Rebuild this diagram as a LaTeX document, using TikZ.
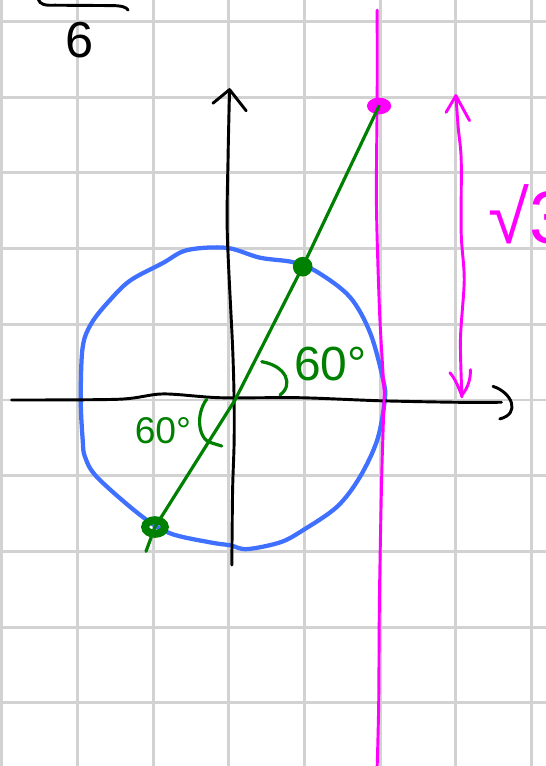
\documentclass[tikz,border=0pt]{standalone}
\usepackage{fontspec}
\setmainfont{Liberation Sans}
\usepackage{tikz}
\usetikzlibrary{calc}
\definecolor{gridgrey}{RGB}{210, 210, 210}
\definecolor{penblue}{RGB}{64, 112, 255}
\definecolor{pengreen}{RGB}{0, 128, 0}
\definecolor{penpink}{RGB}{255, 0, 255}
\begin{document}
\begin{tikzpicture}[
    gridline/.style={draw=gridgrey, line width=1.1pt},
    axis/.style={draw=black, line width=1.1pt, line cap=round, line join=round},
    unitcirc/.style={draw=penblue, line width=1.6pt, line cap=round},
    ray/.style={draw=pengreen, line width=1.2pt, line cap=round, line join=round},
    pinkpen/.style={draw=penpink, line width=1.1pt, line cap=round, line join=round},
    anglelabel/.style={text=pengreen, inner sep=0pt}
]

\fill [white] (-3.0225,-4.8349) rectangle (4.1902,5.2840);
\useasboundingbox (-3.0225,-4.8349) rectangle (4.1902,5.2840);
\path [gridline] (-3.0225,-4.8349) grid (4.1902,5.2840);

\coordinate (pink_dot) at (1.985,3.884);
\coordinate (high_dot) at (0.976,1.761);
\coordinate (low_dot) at (-0.975,-1.678);
\coordinate (cross) at (0.082,0);
\coordinate (ray_end) at (-1.094,-2.0);

\path [unitcirc] plot [smooth cycle, tension=0.55] coordinates {
    (-1.956,0.013) (-1.93,0.70) (-1.81,1.02) (-1.57,1.32) (-1.30,1.58) (-0.87,1.81)
    (-0.55,1.98) (-0.03,2.01) (0.41,1.88) (0.85,1.82) (1.17,1.69) (1.60,1.36)
    (1.87,0.88) (2.04,0.26) (2.06,0) (1.96,-0.53) (1.73,-1.02) (1.43,-1.41)
    (0.98,-1.72) (0.68,-1.88) (0.24,-1.97) (0.02,-1.92) (-0.25,-1.88) (-0.78,-1.76)
    (-1.17,-1.52) (-1.74,-1.02) (-1.90,-0.75) (-1.93,-0.53)};

\path [axis] plot [smooth, tension=0.5] coordinates {
    (-2.87,0) (-1.45,0.01) (-0.87,0.08) (-0.12,0.03) (0.94,0.03) (1.99,-0.01) (3.0,-0.03) (3.60,-0.03)};
\path [axis] (3.49,0.18) .. controls (3.74,0.10) and (3.86,-0.18) .. (3.58,-0.25);
\path [axis] plot [smooth, tension=0.5] coordinates {
    (0.04,-2.18) (0.05,-1.2) (0.07,-0.57) (0.07,0) (0.05,0.7) (-0.02,2.2) (-0.01,3.2) (0.01,4.09)};
\path [axis] (-0.21,3.92) -- (0.01,4.10) -- (0.23,3.82);

\path [pinkpen] plot [smooth, tension=0.5] coordinates {
    (1.96,5.15) (1.96,4.0) (1.95,2.6) (1.99,1.2) (2.04,0.3) (2.05,0) (2.02,-1.0) (1.99,-2.6) (1.98,-4.0) (1.96,-4.84)};
\path [pinkpen] plot [smooth, tension=0.5] coordinates {
    (3.08,0.04) (3.06,0.8) (3.11,1.59) (3.07,2.2) (3.07,3.17) (3.03,3.6) (3.00,4.02)};
\path [pinkpen] (2.87,3.80) -- (3.00,4.02) -- (3.18,3.69);
\path [pinkpen] (2.92,0.36) .. controls (2.98,0.30) and (3.04,0.16) .. (3.08,0.05);
\path [pinkpen] (3.19,0.40) .. controls (3.20,0.28) and (3.15,0.15) .. (3.09,0.08);
\fill [penpink] (pink_dot) ellipse (0.16 and 0.11);

\path [ray] (ray_end) -- (low_dot) -- (cross) -- (high_dot) -- (pink_dot);
\fill [pengreen] (high_dot) circle (0.13);
\draw [pengreen, line width=3pt] (low_dot) ellipse (0.13 and 0.09);

\path [ray] (0.435,0.506) .. controls (0.76,0.45) and (0.86,0.20) .. (0.676,0.066);
\path [ray] (-0.292,0.009) .. controls (-0.45,-0.20) and (-0.40,-0.55) .. (-0.209,-0.573) -- (-0.094,-0.608);
\node [anglelabel, font=\fontsize{18}{21}\selectfont] (angle_up) at (1.34,0.47) {60°};
\node [anglelabel, font=\fontsize{14}{17}\selectfont] (angle_down) at (-0.87,-0.40) {60°};

\node [text=penpink, font=\fontsize{28}{32}\selectfont, anchor=base west, inner sep=0pt] (root_three) at (3.42,2.07) {√3};

\path [axis] (-2.52,5.30) .. controls (-2.50,5.22) and (-2.42,5.21) .. (-2.30,5.215) -- (-1.55,5.21) .. controls (-1.42,5.21) and (-1.35,5.19) .. (-1.33,5.15);
\node [font=\fontsize{19}{22}\selectfont, inner sep=0pt] (denom) at (-1.965,4.757) {6};

\end{tikzpicture}
\end{document}
